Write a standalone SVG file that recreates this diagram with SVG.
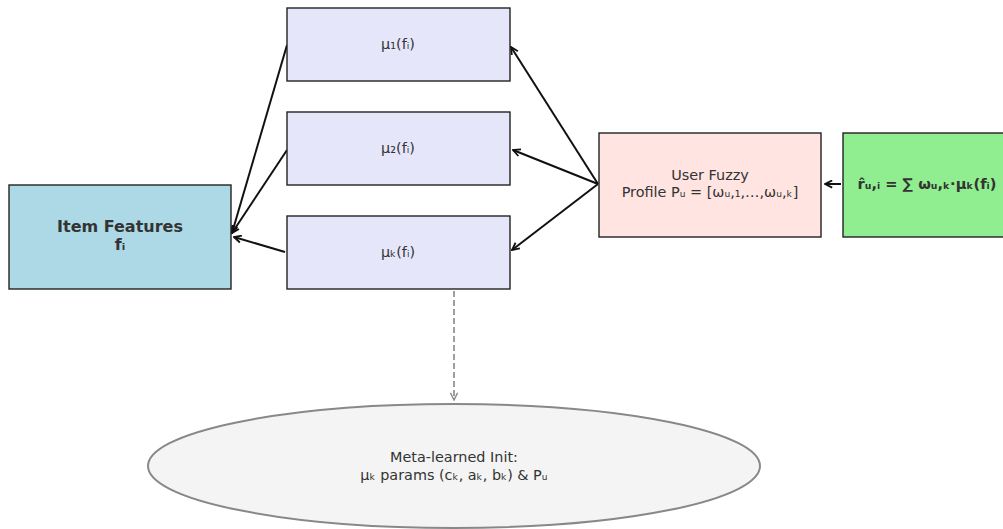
<svg xmlns="http://www.w3.org/2000/svg" width="1003" height="529" viewBox="0 0 1003 529">
<style>
.box{stroke:#222;stroke-width:1.4}
.t{font-family:"DejaVu Sans",sans-serif;font-size:14.4px;fill:#333;text-anchor:middle}
.b{font-weight:bold}
.big{font-size:16px}
.g{font-size:14.6px}
.c{fill:none;stroke:#111;stroke-width:2}
.d{fill:none;stroke:#888;stroke-width:1.6;stroke-dasharray:6,3}
</style>
<defs>
<marker id="ah" viewBox="0 0 10 10" refX="9" refY="5" markerWidth="9" markerHeight="9" orient="auto" markerUnits="userSpaceOnUse">
<path d="M1,1 L9,5 L1,9" fill="none" stroke="#111" stroke-width="2"/>
</marker>
<marker id="ahg" viewBox="0 0 10 10" refX="9" refY="5" markerWidth="9" markerHeight="9" orient="auto" markerUnits="userSpaceOnUse">
<path d="M1,1 L9,5 L1,9" fill="none" stroke="#888" stroke-width="1.6"/>
</marker>
</defs>
<rect width="1003" height="529" fill="#fff"/>
<g id="connectors">
<line class="c" x1="287" y1="45" x2="232" y2="233" marker-end="url(#ah)"/>
<line class="c" x1="287" y1="150" x2="232" y2="233" marker-end="url(#ah)"/>
<line class="c" x1="285" y1="252" x2="234" y2="237" marker-end="url(#ah)"/>
<line class="c" x1="598" y1="184" x2="511" y2="47" marker-end="url(#ah)"/>
<line class="c" x1="598" y1="184" x2="513" y2="150" marker-end="url(#ah)"/>
<line class="c" x1="598" y1="184" x2="512" y2="250" marker-end="url(#ah)"/>
<line class="c" x1="841" y1="184" x2="825" y2="184" marker-end="url(#ah)"/>
<line class="d" x1="454" y1="291" x2="454" y2="400" marker-end="url(#ahg)"/>
</g>
<g id="item">
<rect class="box" x="9" y="185" width="222" height="104" fill="#ADD8E6"/>
<text class="t b big" x="120" y="232">Item Features</text>
<text class="t b big" x="120" y="250">fᵢ</text>
</g>
<g id="mu1">
<rect class="box" x="287" y="8" width="223" height="73" fill="#E6E6FA"/>
<text class="t" x="398" y="49">μ₁(fᵢ)</text>
</g>
<g id="mu2">
<rect class="box" x="287" y="112" width="223" height="73" fill="#E6E6FA"/>
<text class="t" x="398" y="153">μ₂(fᵢ)</text>
</g>
<g id="muk">
<rect class="box" x="287" y="216" width="223" height="73" fill="#E6E6FA"/>
<text class="t" x="398" y="257">μₖ(fᵢ)</text>
</g>
<g id="profile">
<rect class="box" x="599" y="133" width="222" height="104" fill="#FFE4E1"/>
<text class="t" x="710" y="180">User Fuzzy</text>
<text class="t" x="710" y="197">Profile Pᵤ = [ωᵤ,₁,…,ωᵤ,ₖ]</text>
</g>
<g id="rating">
<rect class="box" x="843" y="133" width="222" height="104" fill="#90EE90"/>
<text class="t b g" x="927" y="189">r̂ᵤ,ᵢ = ∑ ωᵤ,ₖ·μₖ(fᵢ)</text>
</g>
<g id="init">
<ellipse cx="454" cy="466" rx="306" ry="62" fill="#F4F4F4" stroke="#888" stroke-width="2"/>
<text class="t" x="454" y="462">Meta-learned Init:</text>
<text class="t" x="454" y="480">μₖ params (cₖ, aₖ, bₖ) &amp; Pᵤ</text>
</g>
</svg>
